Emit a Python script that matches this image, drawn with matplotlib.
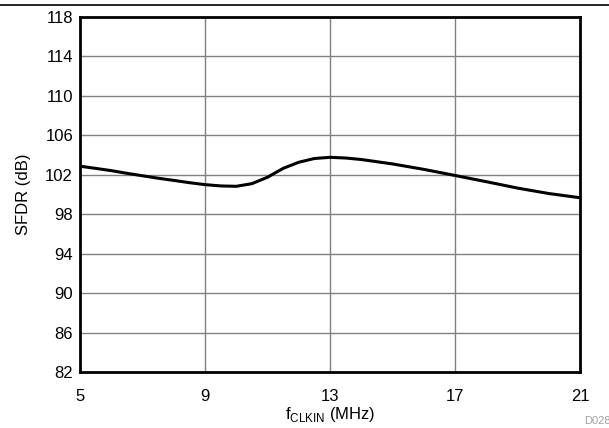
import matplotlib
matplotlib.use('Agg')
import matplotlib.pyplot as plt
from matplotlib.lines import Line2D

plt.rcParams['font.family'] = ['Liberation Sans', 'DejaVu Sans']

# values
fclk = [5, 5.5, 6, 6.5, 7, 7.5, 8, 8.5, 9, 9.5, 10, 10.5, 11, 11.5, 12, 12.5, 13,
        13.5, 14, 15, 16, 17, 18, 19, 20, 21]
sfdr = [102.87, 102.65, 102.42, 102.15, 101.9, 101.65, 101.43, 101.2, 101.0, 100.87, 100.83,
        101.1, 101.75, 102.65, 103.27, 103.65, 103.77, 103.7, 103.55, 103.1, 102.55,
        101.93, 101.3, 100.65, 100.1, 99.67]
xticks = [5, 9, 13, 17, 21]
yticks = list(range(82, 119, 4))

fig = plt.figure(figsize=(6.09, 4.28), dpi=100)
ax = fig.add_axes([80/609, 1 - 372/428, 500/609, 355/428])

ax.plot(fclk, sfdr, color='black', lw=2.2)
ax.set_xlim(5, 21)
ax.set_ylim(82, 118)
ax.set_xticks(xticks)
ax.set_yticks(yticks)
ax.grid(True, color='#808080', lw=1)
ax.tick_params(length=0, labelsize=12)
ax.tick_params(axis='x', pad=12)
ax.tick_params(axis='y', pad=5)
for s in ax.spines.values():
    s.set_linewidth(2)
    s.set_color('black')

ax.set_xlabel(r'f$_{\mathregular{CLKIN}}$ (MHz)', fontsize=12, labelpad=1)
ax.set_ylabel('SFDR (dB)', fontsize=12, labelpad=10)

fig.text(597/609, 1 - 421/428, 'D028', color='#a0a0a0', fontsize=8, ha='center', va='center')
fig.add_artist(Line2D([0, 1], [1 - 5/428, 1 - 5/428], color='black', lw=1.2))

fig.savefig('out.png', dpi=100)
